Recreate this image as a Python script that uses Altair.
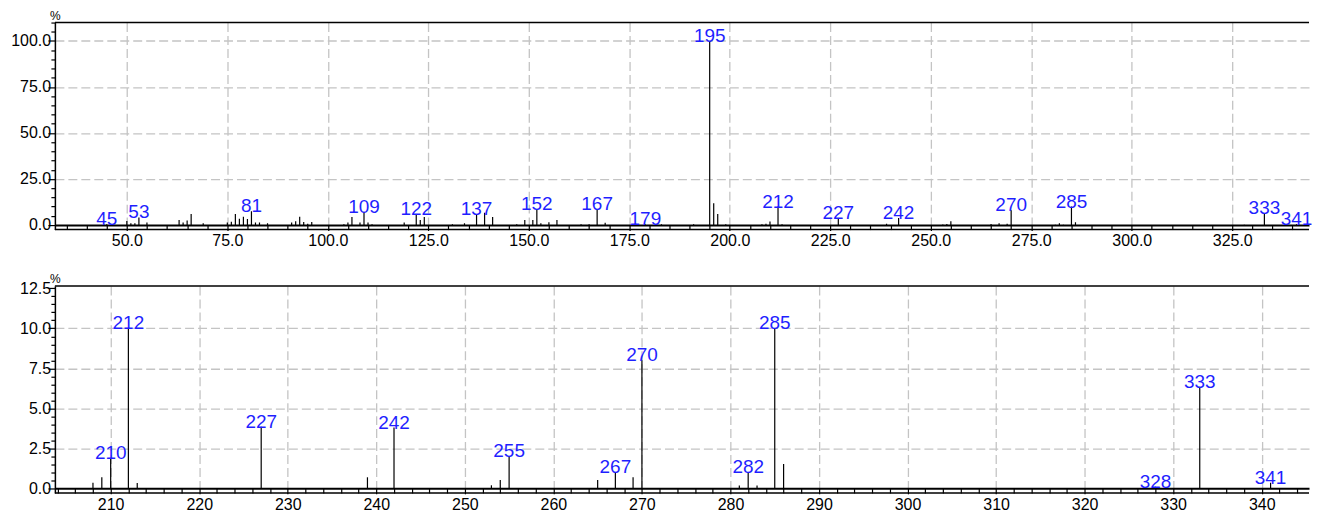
import altair as alt
import pandas as pd

# ---- data ----
mz = [45, 50, 51, 52, 53, 55, 63, 64, 65, 66, 69, 75, 76, 77, 78, 79, 80, 81, 82, 83, 85,
      91, 92, 93, 94, 95, 96, 104, 105, 106, 108, 109, 110, 111, 119, 122, 123, 124, 131, 134,
      137, 139, 141, 147, 149, 151, 152, 153, 155, 157, 163, 165, 167, 169, 179, 183, 191,
      195, 196, 197, 199, 208, 209, 210, 212, 213, 227, 239, 242, 253, 254, 255, 265, 267,
      269, 270, 281, 282, 283, 285, 286, 328, 333, 341]
intensity = [0.4, 2.2, 0.9, 0.9, 4.1, 1.3, 2.7, 1.4, 2.4, 5.9, 0.9, 1.3, 1.8, 5.9, 3.4, 4.5, 3.2, 7.4, 1.4, 1.3, 0.9,
             1.4, 2.0, 4.5, 1.6, 0.7, 1.6, 0.4, 1.4, 4.3, 1.3, 7.2, 1.3, 0.4, 1.3, 5.8, 2.7, 4.3, 0.4, 1.0,
             5.8, 6.7, 4.3, 0.4, 2.7, 2.7, 8.7, 1.0, 1.5, 2.7, 0.4, 0.4, 8.7, 1.2, 0.3, 0.4, 0.4,
             100.0, 11.8, 6.0, 0.4, 0.35, 0.69, 1.9, 10.0, 0.33, 3.85, 0.69, 3.8, 0.19, 0.52, 2.0, 0.52, 1.0,
             0.69, 8.0, 0.17, 1.0, 0.17, 10.0, 1.52, 0.1, 6.35, 0.35]
top_labels = [45, 53, 81, 109, 122, 137, 152, 167, 179, 195, 212, 227, 242, 270, 285, 333, 341]
bottom_labels = [210, 212, 227, 242, 255, 267, 270, 282, 285, 328, 333, 341]

top_xticks = list(range(35, 345, 5))
top_yticks = list(range(0, 115, 5))
bot_xticks = list(range(204, 346, 2))
bot_yticks = [i * 0.5 for i in range(0, 26)]

top_xdomain = [32.1, 344.1]
top_ydomain = [-2.5, 110]
bot_xdomain = [203.7, 345.34]
bot_ydomain = [-0.29, 12.65]

df = pd.DataFrame({"mz": mz, "pct": intensity})
df["base"] = 0.0

FONT = "Liberation Sans"
W, H = 1257, 207.5
GRID = "#c4c4c4"


def panel(xdom, ydom, xticks, yticks, xmajor, ymajor, ygridmax, xfmt, labels):
    xaxis = alt.Axis(
        values=xticks, tickCount=1000,
        labelExpr=f"datum.value % {xmajor} === 0 ? format(datum.value, '{xfmt}') : ''",
        labelOverlap=False, labelFlush=False, labelBound=False,
        offset=-(0 - ydom[0]) / (ydom[1] - ydom[0]) * H,
        tickSize={"condition": {"test": f"datum.value % {xmajor} === 0", "value": 5.5}, "value": 4.6},
        gridOpacity={"condition": {"test": f"datum.value % {xmajor} === 0", "value": 1}, "value": 0},
        grid=True, gridColor=GRID, gridDash=[9, 4], gridWidth=1.3,
        domainColor="black", domainWidth=2, tickColor="black", tickWidth=1.2,
        labelFont=FONT, labelFontSize=16, labelColor="black", labelPadding=2.5,
        title=None,
    )
    yaxis = alt.Axis(
        values=yticks, tickCount=1000,
        labelExpr=f"datum.value % {ymajor} === 0 ? format(datum.value, '.1f') : ''",
        labelOverlap=False, labelFlush=False, labelBound=False,
        tickSize={"condition": {"test": f"datum.value % {ymajor} === 0", "value": 7}, "value": 4},
        gridOpacity={"condition": {"test": f"datum.value % {ymajor} === 0 && datum.value > 0 && datum.value <= {ygridmax}", "value": 1}, "value": 0},
        grid=True, gridColor=GRID, gridDash=[9, 4], gridWidth=1.3,
        domainColor="black", domainWidth=1.5, tickColor="black", tickWidth=1.2,
        labelFont=FONT, labelFontSize=16, labelColor="black", labelPadding=-2.7,
        title="%", titleAngle=0, titleX=0, titleY=-3, titleAlign="center",
        titleBaseline="alphabetic", titleFont=FONT, titleFontSize=12,
        titleFontWeight="normal", titleColor="black",
    )
    x = alt.X("mz:Q", scale=alt.Scale(domain=xdom, nice=False, zero=False), axis=xaxis)
    y = alt.Y("pct:Q", scale=alt.Scale(domain=ydom, nice=False, zero=False), axis=yaxis)

    peaks = alt.Chart(df).mark_rule(color="black", strokeWidth=1.2, clip=True).encode(
        x=x, y=y, y2="base:Q"
    )
    frame = alt.Chart(pd.DataFrame({"pct": [ydom[0], ydom[1]]})).mark_rule(
        color="black", strokeWidth=1.4
    ).encode(y=y)
    lab = alt.Chart(df[df["mz"].isin(labels)]).mark_text(
        font=FONT, fontSize=19, color="#1f1fff", align="center", baseline="alphabetic", dy=1
    ).encode(
        x=alt.X("mz:Q"), y=alt.Y("pct:Q"), text=alt.Text("mz:Q", format="d")
    )
    return alt.layer(peaks, frame, lab).properties(width=W, height=H)


top = panel(top_xdomain, top_ydomain, top_xticks, top_yticks, 25, 25, 100, ".1f", top_labels)
bottom = panel(bot_xdomain, bot_ydomain, bot_xticks, bot_yticks, 10, 2.5, 10, "d", bottom_labels)

chart = alt.vconcat(top, bottom, spacing=56, bounds="flush").properties(
    padding={"left": 2, "top": 1, "right": 0, "bottom": 0}
).configure_view(stroke=None)

chart.save("out.html", embed_options={"renderer": "svg", "actions": False})
